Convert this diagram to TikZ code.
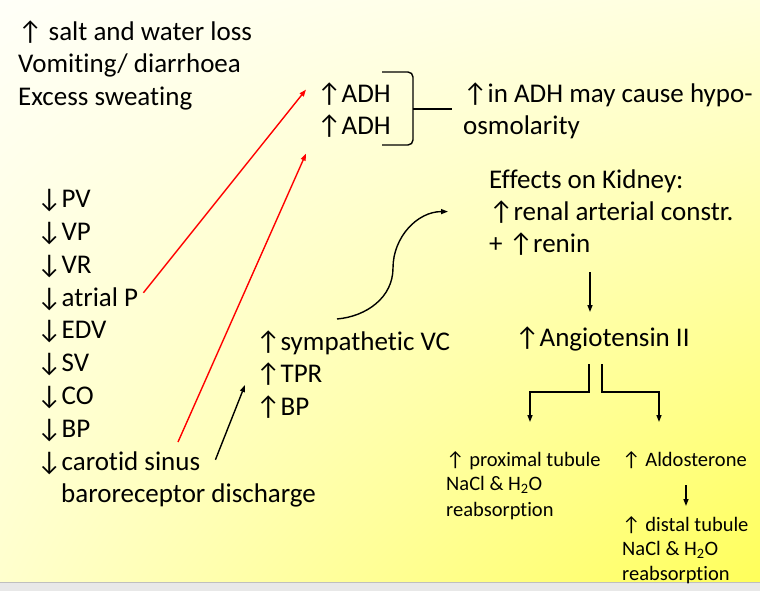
\documentclass[tikz,border=0pt]{standalone}
\usepackage{fontspec}
\setmainfont{Carlito}[Ligatures=NoCommon]
\usetikzlibrary{positioning,arrows.meta,shadings}

\definecolor{bgul}{RGB}{255,255,248}
\definecolor{bgur}{RGB}{255,255,220}
\definecolor{bgll}{RGB}{255,255,205}
\definecolor{bglr}{RGB}{255,255,90}

\tikzset{
  txt/.style={anchor=base west,inner sep=0pt,font=\fontsize{27}{31}\selectfont},
  small/.style={anchor=base west,inner sep=0pt,font=\fontsize{20.5}{24}\selectfont,align=left},
  link/.style={line width=1.4pt,-{Triangle[length=7pt,width=5pt]}},
  redlink/.style={link,red},
}

\begin{document}
\begin{tikzpicture}[x=1pt,y=-1pt]
\useasboundingbox (0,0) rectangle (760,591);
% background
\shade[upper left=bgul,upper right=bgur,lower left=bgll,lower right=bglr]
  (0,0) rectangle (760,582);
\fill[gray!18] (0,582) rectangle (760,591);
\draw[gray!50,line width=0.8pt] (0,582) -- (760,582);

% causes
\node[txt] (salt) at (18,41) {↑ salt and water loss};
\node[txt] (vomit) at (18,73) {Vomiting/ diarrhoea};
\node[txt] (sweat) at (18,106) {Excess sweating};

% falling volume and pressure
\node[txt] (pv) at (37,207.6) {↓PV};
\node[txt] (vp) at (37,240.4) {↓VP};
\node[txt] (vr) at (37,273.2) {↓VR};
\node[txt] (atrial) at (37,306) {↓atrial P};
\node[txt] (edv) at (37,338.8) {↓EDV};
\node[txt] (sv) at (37,371.6) {↓SV};
\node[txt] (co) at (37,404.4) {↓CO};
\node[txt] (bp) at (37,437.2) {↓BP};
\node[txt] (carotid) at (37,470) {↓carotid sinus};
\node[txt] (baro) at (61,502.8) {baroreceptor discharge};

% ADH
\node[txt] (adha) at (317,103) {↑ADH};
\node[txt] (adhb) at (317,135) {↑ADH};
\node[txt] (hypo) at (463,103) {↑in ADH may cause hypo-};
\node[txt] (osmo) at (463,135) {osmolarity};

% sympathetic response
\node[txt] (symp) at (256,350) {↑sympathetic VC};
\node[txt] (tpr) at (256,382) {↑TPR};
\node[txt] (bpup) at (256,415) {↑BP};

% kidney
\node[txt] (kidney) at (489,188) {Effects on Kidney:};
\node[txt] (renal) at (489,220) {↑renal arterial constr.};
\node[txt] (renin) at (489,252) {+ ↑renin};
\node[txt] (angio) at (515,346) {↑Angiotensin II};

\node[small] (prox) at (446,466) {↑ proximal tubule};
\node[small] (proxa) at (446,490) {NaCl \& H\textsubscript{2}O};
\node[small] (proxb) at (446,516) {reabsorption};
\node[small] (aldo) at (622,466) {↑ Aldosterone};
\node[small] (dist) at (622,531) {↑ distal tubule};
\node[small] (dista) at (622,555) {NaCl \& H\textsubscript{2}O};
\node[small] (distb) at (622,580) {reabsorption};

% bracket
\coordinate (bktop) at (382,72);
\coordinate (bkbot) at (382,145);
\coordinate (bkmid) at (413,109);
\draw[line width=1.4pt,rounded corners=5pt] (bktop) -| (bkmid) |- (bkbot);
\draw[line width=1.4pt] (bkmid) -- (452,109);

% connectors
\draw[redlink] ([xshift=5pt,yshift=6pt]atrial.east) -- ([xshift=-11pt,yshift=5pt]adha.west);
\draw[redlink] (178,442) -- ([xshift=-11pt,yshift=-27pt]adhb.west);
\draw[link] ([xshift=15pt,yshift=3pt]carotid.east) -- (245,385);
\draw[link] (337,319) to[out=5,in=-90] (393,268) to[out=90,in=180] ([xshift=-41pt]renal.west);
\draw[link] (590,272) -- (590,312);
\coordinate (split) at (589,364);
\coordinate (splitb) at (602,364);
\draw[link] (split) |- (530,392) -- (530,422);
\draw[link] (splitb) |- (659,392) -- (659,422);
\draw[link] (686,485) -- (686,506);
\end{tikzpicture}
\end{document}
